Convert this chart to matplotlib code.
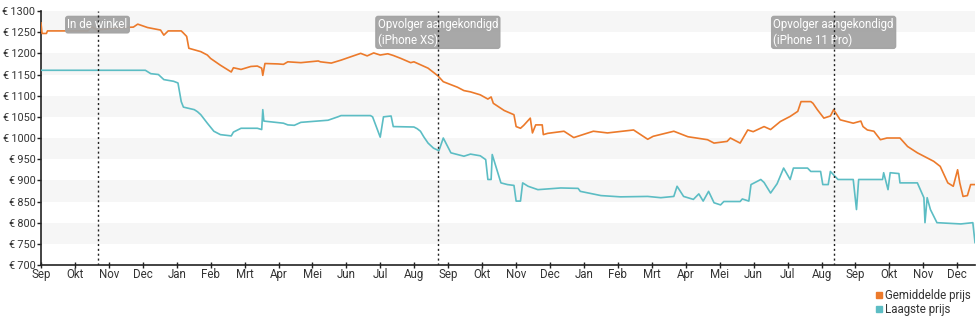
import numpy as np
import matplotlib
matplotlib.use("Agg")
import matplotlib.pyplot as plt
from matplotlib.lines import Line2D

plt.rcParams['font.family'] = ['Roboto', 'DejaVu Sans']

# days since 12 Sep 2017
avg_days = [0, 1, 5, 6, 43, 46, 50, 52, 55, 69, 85, 89, 98, 110, 113, 117, 129, 131, 134, 136,
            147, 153, 156, 165, 175, 177, 184, 193, 199, 203, 204, 206, 218, 223, 227, 239, 255,
            257, 267, 276, 285, 294, 300, 306, 312, 319, 324, 331, 340, 343, 356, 365, 370, 383,
            389, 395, 404, 411, 414, 416, 426, 435, 437, 441, 444, 450, 452, 455, 461, 462, 466,
            481, 490, 508, 521, 545, 558, 563, 582, 595, 613, 619, 631, 634, 643, 650, 655, 665,
            671, 680, 689, 696, 699, 708, 710, 714, 720, 726, 729, 735, 747, 754, 756, 760, 766,
            772, 778, 790, 797, 806, 815, 821, 827, 834, 839, 843, 845, 848, 852, 855, 859]
avg_price = [1272, 1247, 1247, 1253, 1253, 1263, 1258, 1253, 1256, 1260, 1262, 1269, 1261, 1255,
             1243, 1253, 1253, 1248, 1240, 1212, 1204, 1196, 1188, 1172, 1156, 1166, 1162, 1169,
             1170, 1165, 1148, 1176, 1175, 1174, 1180, 1178, 1182, 1180, 1177, 1184, 1192, 1200,
             1194, 1201, 1196, 1199, 1195, 1188, 1178, 1180, 1165, 1147, 1133, 1120, 1112, 1109,
             1102, 1092, 1097, 1082, 1065, 1055, 1027, 1023, 1030, 1047, 1012, 1031, 1031, 1008,
             1011, 1016, 1001, 1016, 1012, 1019, 997, 1004, 1016, 1003, 996, 988, 992, 1000, 988,
             1019, 1015, 1027, 1020, 1039, 1051, 1063, 1086, 1086, 1082, 1067, 1047, 1052, 1067,
             1043, 1035, 1040, 1027, 1019, 1016, 996, 1000, 1000, 980, 965, 953, 945, 933, 894,
             886, 925, 894, 862, 864, 890, 890]

low_days = [0, 96, 101, 108, 113, 122, 126, 129, 131, 141, 144, 147, 153, 159, 165, 175, 177, 184,
            199, 203, 204, 205, 223, 227, 233, 239, 264, 273, 276, 303, 305, 312, 315, 322, 324,
            343, 346, 349, 352, 356, 361, 366, 370, 377, 389, 395, 404, 409, 411, 414, 415, 423,
            429, 435, 437, 441, 443, 448, 457, 478, 494, 496, 515, 533, 558, 570, 582, 585, 591,
            600, 605, 609, 614, 619, 625, 628, 643, 645, 651, 653, 662, 665, 671, 677, 683, 689,
            692, 705, 708, 717, 719, 724, 726, 733, 747, 750, 752, 774, 775, 779, 781, 789, 790,
            806, 812, 813, 815, 818, 824, 846, 857, 859]
low_price = [1160, 1160, 1152, 1150, 1138, 1134, 1130, 1086, 1073, 1067, 1062, 1055, 1035, 1016,
             1008, 1005, 1014, 1023, 1023, 1020, 1067, 1040, 1035, 1031, 1030, 1037, 1042, 1050,
             1053, 1053, 1050, 1002, 1050, 1052, 1027, 1026, 1022, 1016, 1003, 988, 976, 970, 1000,
             965, 957, 962, 958, 949, 902, 902, 961, 894, 890, 888, 851, 851, 894, 886, 878, 882,
             881, 874, 864, 861, 862, 859, 862, 886, 862, 855, 868, 851, 874, 847, 842, 850, 850,
             856, 851, 890, 902, 895, 870, 892, 929, 902, 929, 929, 921, 921, 890, 890, 921, 902,
             902, 831, 902, 902, 918, 878, 918, 916, 894, 894, 859, 800, 859, 831, 800, 797, 800,
             753]

month_labels = ['Sep', 'Okt', 'Nov', 'Dec', 'Jan', 'Feb', 'Mrt', 'Apr', 'Mei', 'Jun', 'Jul', 'Aug',
                'Sep', 'Okt', 'Nov', 'Dec', 'Jan', 'Feb', 'Mrt', 'Apr', 'Mei', 'Jun', 'Jul', 'Aug',
                'Sep', 'Okt', 'Nov', 'Dec']
event_days = [52, 365, 729]
event_labels = ['In de winkel', 'Opvolger aangekondigd\n(iPhone XS)',
                'Opvolger aangekondigd\n(iPhone 11 Pro)']

orange = '#ec7a2b'
cyan = '#5cbdc4'
txt = '#333333'

fig = plt.figure(figsize=(9.8, 3.25), dpi=100)
ax = fig.add_axes([0.0418, 0.1846, 0.9531, 0.7815])

# alternating bands
for lo in range(750, 1300, 100):
    ax.axhspan(lo, lo + 50, color='#f6f6f6', lw=0, zorder=0)

ax.plot(avg_days, avg_price, color=orange, lw=1.2, zorder=3)
ax.plot(low_days, low_price, color=cyan, lw=1.2, zorder=3)

for d, lab in zip(event_days, event_labels):
    ax.axvline(d, color='#222222', lw=1, ls=(0, (1.5, 2)), zorder=5)
    ax.annotate(lab, xy=(d, 0.972), xycoords=('data', 'axes fraction'), ha='center', va='top',
                multialignment='left', color='white', fontsize=8.3, zorder=4,
                bbox=dict(boxstyle='round,pad=0.15,rounding_size=0.2', fc='#a3a3a3',
                          ec='#a3a3a3', alpha=0.95))

ax.set_xlim(0, 859)
ax.set_ylim(700, 1300)
ax.set_yticks(np.arange(700, 1301, 50))
ax.set_yticklabels(['€\u2009%d' % v for v in np.arange(700, 1301, 50)])
step = 31.21
ax.set_xticks([i * step for i in range(len(month_labels))])
ax.set_xticklabels(month_labels)
ax.tick_params(axis='y', direction='out', length=3, width=1, colors='#222222',
               labelcolor=txt, labelsize=7.8, pad=1)
ax.tick_params(axis='x', direction='inout', length=5, width=1, colors='#222222',
               labelcolor=txt, labelsize=8.3, pad=0)
for s in ['top', 'right']:
    ax.spines[s].set_visible(False)
ax.spines['left'].set_color('#222222')
ax.spines['bottom'].set_color('#222222')
ax.spines['left'].set_linewidth(1.2)
ax.spines['bottom'].set_linewidth(1.2)
ax.set_facecolor('white')

handles = [Line2D([], [], marker='s', ls='', color=orange, markersize=5),
           Line2D([], [], marker='s', ls='', color=cyan, markersize=5)]
fig.legend(handles, ['Gemiddelde prijs', 'Laagste prijs'], loc='lower right',
           bbox_to_anchor=(1.0, 0.0), frameon=False, fontsize=8.3, handlelength=0.6,
           handletextpad=0.2, labelspacing=0.1, borderpad=0.3, labelcolor=txt)

fig.savefig('out.png', dpi=100)
